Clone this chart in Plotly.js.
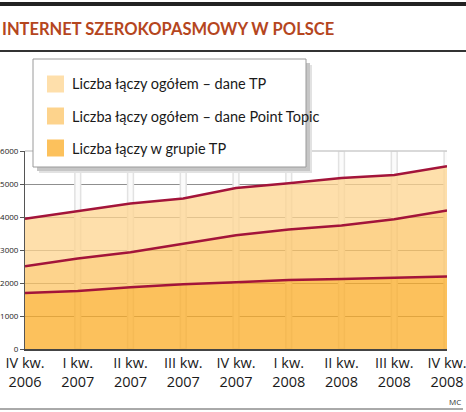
<!DOCTYPE html>
<html>
<head>
<meta charset="utf-8">
<script src="https://cdn.plot.ly/plotly-3.0.1.min.js"></script>
<style>html,body{margin:0;padding:0;background:#fff;}#chart{width:466px;height:412px;}</style>
</head>
<body>
<div id="chart"></div>
<script>
// ---- data ----
var categories = ["IV kw.<br>2006","I kw.<br>2007","II kw.<br>2007","III kw.<br>2007","IV kw.<br>2007","I kw.<br>2008","II kw.<br>2008","III kw.<br>2008","IV kw.<br>2008"];
var tpTotal    = [3950, 4190, 4410, 4560, 4880, 5020, 5180, 5270, 5540];
var pointTopic = [2510, 2740, 2930, 3190, 3450, 3620, 3740, 3930, 4200];
var tpGroup    = [1700, 1760, 1870, 1960, 2020, 2090, 2120, 2150, 2200];
var seriesNames = ["Liczba łączy ogółem – dane TP", "Liczba łączy ogółem – dane Point Topic", "Liczba łączy w grupie TP"];
var yTicks = [0, 1000, 2000, 3000, 4000, 5000, 6000];

// ---- styling ----
var W = 466, H = 412;
var M = {l: 25, r: 19, t: 151, b: 63};
var fillColors = ["rgba(254,212,143,0.75)", "rgba(252,196,102,0.75)", "rgba(251,172,38,0.75)"];
var swatchColors = ["#FEDFAB", "#FDD38C", "#FCC15C"];
var lineColor = "#A3143A";
var LFONT = "Lato, 'Open Sans', sans-serif";
var AFONT = "'Open Sans', sans-serif";

var xIdx = categories.map(function (_, i) { return i; });
var yMax = yTicks[yTicks.length - 1];
var plotW = W - M.l - M.r, plotH = H - M.t - M.b;
function px(x) { return (x - M.l) / plotW; }
function py(y) { return (H - M.b - y) / plotH; }

var traces = [
  {x: xIdx, y: tpGroup, mode: "none", fill: "tozeroy", fillcolor: fillColors[2], hoverinfo: "skip", showlegend: false},
  {x: xIdx, y: pointTopic, mode: "none", fill: "tonexty", fillcolor: fillColors[1], hoverinfo: "skip", showlegend: false},
  {x: xIdx, y: tpTotal, mode: "none", fill: "tonexty", fillcolor: fillColors[0], hoverinfo: "skip", showlegend: false},
  // separator stripes at each quarter
  {type: "bar", x: xIdx.slice(1), y: xIdx.slice(1).map(function () { return yMax; }), width: 0.11,
   marker: {color: "#fbfbfb", line: {color: "#e2e2e2", width: 1.5}}, hoverinfo: "skip", showlegend: false},
  {x: xIdx, y: tpGroup, mode: "lines", line: {color: lineColor, width: 2.5}, hoverinfo: "skip", showlegend: false},
  {x: xIdx, y: pointTopic, mode: "lines", line: {color: lineColor, width: 2.5}, hoverinfo: "skip", showlegend: false},
  {x: xIdx, y: tpTotal, mode: "lines", line: {color: lineColor, width: 2.5}, hoverinfo: "skip", showlegend: false}
];

var shapes = [
  // decorative rules
  {type: "rect", xref: "paper", yref: "paper", x0: px(0), x1: px(W), y0: py(2), y1: py(6), fillcolor: "#222", line: {width: 0}, layer: "above"},
  {type: "line", xref: "paper", yref: "paper", x0: px(0), x1: px(W), y0: py(51), y1: py(51), line: {color: "#333", width: 2}, layer: "above"},
  {type: "line", xref: "paper", yref: "paper", x0: px(0), x1: px(W - 3), y0: py(409), y1: py(409), line: {color: "#555", width: 1}, layer: "above"},
  // top frame line
  {type: "line", xref: "paper", yref: "paper", x0: 0, x1: 1, y0: 1, y1: 1, line: {color: "#cccccc", width: 1.5}, layer: "above"},
  // legend shadow + box
  {type: "rect", xref: "paper", yref: "paper", x0: px(39), x1: px(312), y0: py(173), y1: py(65), fillcolor: "#e2e2e2", line: {width: 0}, layer: "above"},
  {type: "rect", xref: "paper", yref: "paper", x0: px(37), x1: px(310), y0: py(171), y1: py(63), fillcolor: "#c6c6c6", line: {width: 0}, layer: "above"},
  {type: "rect", xref: "paper", yref: "paper", x0: px(33), x1: px(306), y0: py(167), y1: py(59), fillcolor: "#ffffff", line: {color: "#9a9a9a", width: 1}, layer: "above"}
];
var annotations = [];
var rowY = [84, 116, 148];
seriesNames.forEach(function (name, i) {
  shapes.push({type: "rect", xref: "paper", yref: "paper", x0: px(47), x1: px(64), y0: py(rowY[i] + 8.5), y1: py(rowY[i] - 8.5),
    fillcolor: swatchColors[i], line: {width: 0}, layer: "above"});
  annotations.push({xref: "paper", yref: "paper", x: px(70), y: py(rowY[i]), xanchor: "left", yanchor: "middle",
    text: name, showarrow: false, font: {family: LFONT, size: 14.5, color: "#1a1a1a"}});
});
annotations.push({xref: "paper", yref: "paper", x: px(463), y: py(401), xanchor: "right", yanchor: "middle",
  text: "MC", showarrow: false, font: {family: AFONT, size: 8, color: "#333"}});

var layout = {
  width: W, height: H,
  margin: M,
  paper_bgcolor: "#fff", plot_bgcolor: "#fff",
  title: {text: "<b>INTERNET SZEROKOPASMOWY W POLSCE</b>", xref: "container", yref: "container",
    x: 2 / W, xanchor: "left", y: 1 - 29 / H, yanchor: "middle",
    font: {family: LFONT, size: 16.5, color: "#B5461E"}},
  showlegend: false,
  xaxis: {range: [0, xIdx.length - 1], tickvals: xIdx, ticktext: categories, showgrid: false, zeroline: false,
    showline: true, linecolor: "#444", linewidth: 1.5, ticks: "", ticklabeloverflow: "allow",
    tickfont: {family: AFONT, size: 14.5, color: "#1a1a1a"}, fixedrange: true},
  yaxis: {range: [0, yMax], tickvals: yTicks, ticktext: yTicks.map(String), showgrid: true, gridcolor: "#8f8f8f", gridwidth: 1,
    zeroline: false, showline: true, linecolor: "#555", linewidth: 1, ticks: "outside", ticklen: 4, tickcolor: "#555",
    tickfont: {family: AFONT, size: 8, color: "#222"}, fixedrange: true},
  shapes: shapes,
  annotations: annotations,
  bargap: 0
};

Plotly.newPlot("chart", traces, layout, {staticPlot: true, displayModeBar: false});
</script>
</body>
</html>
